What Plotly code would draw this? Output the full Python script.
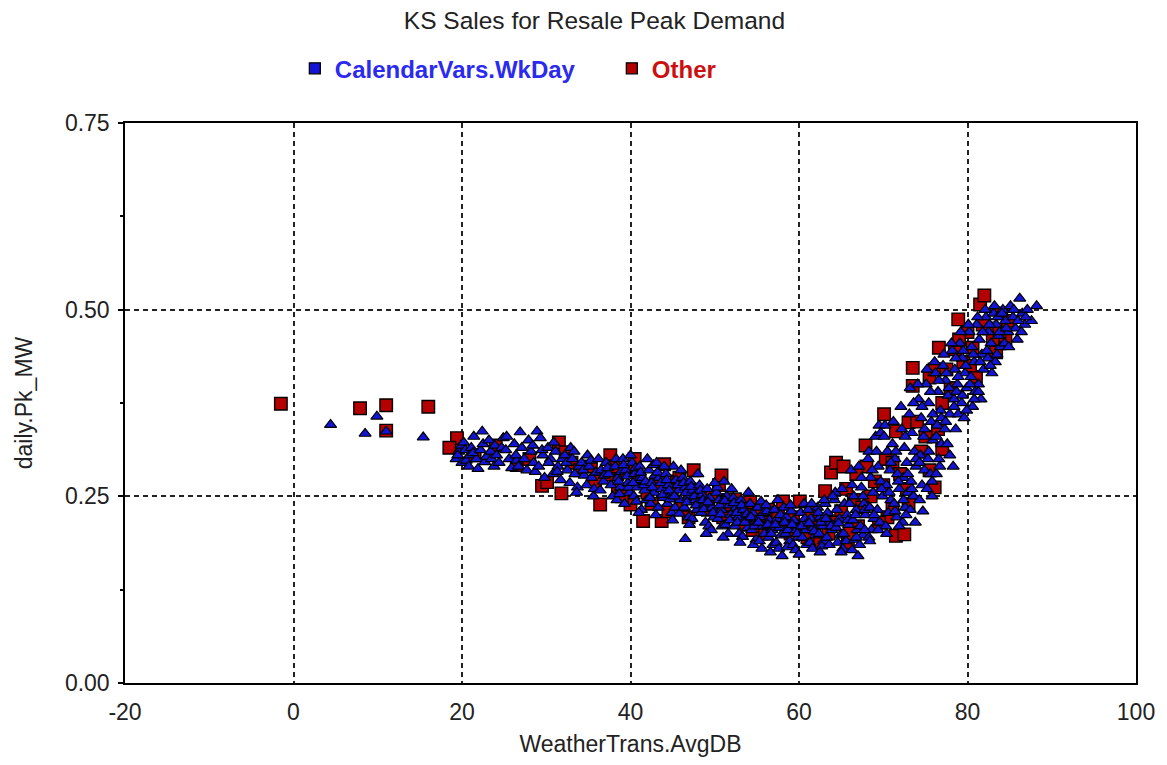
import plotly.graph_objects as go

# ---------------- data ----------------
wkday_x = [
    4.4, 8.5, 9.9, 11.0, 15.4,
    19.3, 19.6, 19.9, 20.0, 19.5,
    20.2, 20.5, 20.8, 20.4, 20.9,
    21.1, 21.4, 21.7, 21.9, 21.3,
    22.4, 22.2, 22.7, 22.9, 22.5,
    23.2, 23.5, 23.8, 23.4, 23.9,
    24.1, 24.4, 24.7, 24.9,
    25.3, 25.6, 25.9, 25.2,
    26.9, 26.2, 26.5, 26.7, 26.4,
    27.1, 27.4, 27.7, 27.9,
    28.9, 28.2, 28.5, 28.7, 28.4,
    29.3, 29.6, 29.1, 29.8, 29.5,
    30.2, 30.5, 30.8, 30.3, 30.9,
    31.1, 31.4, 31.7, 31.9, 31.3,
    32.2, 32.5, 32.8, 32.4, 32.9,
    33.1, 33.4, 33.7, 33.9, 33.3, 33.6,
    34.2, 34.5, 34.8, 34.4, 34.9,
    35.1, 35.4, 35.7, 35.9, 35.3, 35.6,
    36.2, 36.5, 36.8, 36.4, 36.9,
    37.1, 37.4, 37.7, 37.9, 37.3,
    38.2, 38.5, 38.8, 38.4, 38.9, 38.6, 38.3, 38.7,
    39.1, 39.4, 39.7, 39.9, 39.3, 39.6, 39.2, 39.8,
    40.2, 40.5, 40.8, 40.4, 40.9, 40.6, 40.3, 40.7,
    41.1, 41.4, 41.7, 41.9, 41.3, 41.6, 41.2, 41.8,
    42.2, 42.5, 42.8, 42.4, 42.9, 42.6, 42.3, 42.7,
    43.1, 43.4, 43.7, 43.9, 43.3, 43.6, 43.2, 43.8,
    44.2, 44.5, 44.8, 44.4, 44.9, 44.6, 44.3, 44.7,
    45.1, 45.4, 45.7, 45.9, 45.3, 45.6, 45.2, 45.8,
    46.2, 46.5, 46.8, 46.4, 46.9, 46.6, 46.3, 46.7,
    47.1, 47.4, 47.7, 47.9, 47.3, 47.6, 47.2, 47.8,
    48.2, 48.5, 48.8, 48.4, 48.9, 48.6, 48.3, 48.7,
    49.1, 49.4, 49.7, 49.9, 49.3, 49.6, 49.2, 49.8,
    50.2, 50.5, 50.8, 50.4, 50.9, 50.6, 50.3, 50.7,
    51.1, 51.4, 51.7, 51.9, 51.3, 51.6, 51.2, 51.8,
    52.2, 52.5, 52.8, 52.4, 52.9, 52.6, 52.3, 52.7,
    53.1, 53.4, 53.7, 53.9, 53.3, 53.6, 53.2, 53.8,
    54.2, 54.5, 54.8, 54.4, 54.9, 54.6, 54.3, 54.7,
    55.1, 55.4, 55.7, 55.9, 55.3, 55.6, 55.2, 55.8,
    56.2, 56.5, 56.8, 56.4, 56.9, 56.6, 56.3, 56.7,
    57.1, 57.4, 57.7, 57.9, 57.3, 57.6, 57.2, 57.8,
    58.2, 58.5, 58.8, 58.4, 58.9, 58.6, 58.3, 58.7,
    59.1, 59.4, 59.7, 59.9, 59.3, 59.6, 59.2, 59.8,
    60.2, 60.5, 60.8, 60.4, 60.9, 60.6, 60.3, 60.7,
    61.1, 61.4, 61.7, 61.9, 61.3, 61.6, 61.2, 61.8,
    62.2, 62.5, 62.8, 62.4, 62.9, 62.6, 62.3, 62.7,
    63.1, 63.4, 63.7, 63.9, 63.3, 63.6, 63.2, 63.8,
    64.2, 64.5, 64.8, 64.4, 64.9, 64.6, 64.3, 64.7,
    65.1, 65.4, 65.7, 65.9, 65.3, 65.6, 65.2, 65.8,
    66.2, 66.5, 66.8, 66.4, 66.9, 66.6, 66.3, 66.7,
    67.1, 67.4, 67.7, 67.9, 67.3, 67.6, 67.2, 67.8,
    68.2, 68.5, 68.8, 68.4, 68.9, 68.6, 68.3,
    69.1, 69.4, 69.7, 69.9, 69.3, 69.6, 69.5,
    70.2, 70.5, 70.8, 70.4, 70.9, 70.6, 70.3,
    71.1, 71.4, 71.7, 71.9, 71.3, 71.6,
    72.2, 72.5, 72.8, 72.4, 72.9, 72.6, 72.3,
    73.1, 73.4, 73.7, 73.9, 73.3, 73.6, 73.2,
    74.2, 74.5, 74.8, 74.4, 74.9, 74.6, 74.3,
    75.1, 75.4, 75.7, 75.9, 75.3, 75.6, 75.2, 75.8,
    76.2, 76.5, 76.8, 76.4, 76.9, 76.6, 76.3,
    77.1, 77.4, 77.7, 77.9, 77.3, 77.6,
    78.2, 78.5, 78.8, 78.4, 78.9, 78.6, 78.3,
    79.1, 79.4, 79.7, 79.9, 79.3, 79.6,
    80.2, 80.5, 80.8, 80.4, 80.9, 80.6,
    81.1, 81.4, 81.7, 81.9, 81.3, 81.6,
    82.2, 82.5, 82.8, 82.4, 82.9,
    83.1, 83.4, 83.7, 83.9, 83.3,
    84.2, 84.5, 84.8, 84.4,
    85.1, 85.4, 85.7, 85.9,
    86.2, 86.5, 86.8,
    87.1, 87.6,
    88.2,
    # extra points on the rising branch
    66.3, 66.8, 67.4, 67.8, 67.6,
    68.3, 68.7, 68.9, 68.4,
    69.2, 69.8, 69.4, 69.7,
    70.1, 70.7, 70.4, 70.9,
    71.2, 71.5, 71.8, 71.4, 71.9,
    72.1, 72.6, 72.9, 72.4, 72.7,
    73.2, 73.6, 73.9, 73.4, 73.8,
    74.1, 74.6, 74.9, 74.3, 74.7,
    75.2, 75.6, 75.9, 75.4, 75.8,
    76.1, 76.6, 76.9, 76.3, 76.7,
    77.2, 77.5, 77.8, 77.4, 77.9,
    78.1, 78.6, 78.9, 78.4, 78.7,
    79.2, 79.5, 79.8, 79.4, 79.9,
    80.1, 80.7, 80.3, 80.8,
    81.2, 81.8, 81.5, 81.3,
    82.1, 82.6, 82.3, 82.7,
    83.2, 83.6, 83.8, 83.5,
    84.1, 84.6, 84.9,
    85.5, 86.0, 86.4, 86.9,
    # extra points in the trough and the falling part
    55.5, 56.1, 57.5, 58.0, 59.0, 60.0, 61.5, 62.5, 63.0, 64.0, 65.0, 66.0, 67.0,
    40.0, 42.0, 44.0, 46.0, 48.0, 50.0, 52.0, 54.0,
    45.0, 46.5, 47.0, 49.0, 51.0, 53.0, 43.0, 41.0,
]
wkday_y = [
    0.346, 0.334, 0.357, 0.337, 0.329,
    0.300, 0.310, 0.318, 0.295, 0.305,
    0.322, 0.298, 0.290, 0.312, 0.305,
    0.315, 0.330, 0.300, 0.287, 0.308,
    0.337, 0.312, 0.296, 0.303, 0.320,
    0.325, 0.300, 0.290, 0.310, 0.318,
    0.305, 0.295, 0.315, 0.328,
    0.330, 0.300, 0.288, 0.312,
    0.336, 0.320, 0.298, 0.290, 0.305,
    0.315, 0.300, 0.285, 0.325,
    0.337, 0.310, 0.295, 0.283, 0.318,
    0.328, 0.305, 0.290, 0.275, 0.312,
    0.315, 0.300, 0.280, 0.295, 0.322,
    0.310, 0.290, 0.272, 0.300, 0.283,
    0.305, 0.285, 0.268, 0.295, 0.315,
    0.300, 0.280, 0.262, 0.290, 0.310, 0.255,
    0.295, 0.278, 0.265, 0.285, 0.305,
    0.290, 0.275, 0.260, 0.282, 0.298, 0.250,
    0.300, 0.285, 0.270, 0.258, 0.278,
    0.295, 0.280, 0.265, 0.250, 0.288,
    0.290, 0.275, 0.262, 0.245, 0.283, 0.270, 0.300, 0.253,
    0.300, 0.285, 0.268, 0.255, 0.240, 0.277, 0.292, 0.262,
    0.295, 0.280, 0.262, 0.250, 0.272, 0.288, 0.268, 0.243,
    0.290, 0.275, 0.258, 0.245, 0.232, 0.265, 0.282, 0.270,
    0.285, 0.268, 0.255, 0.240, 0.278, 0.262, 0.248, 0.292,
    0.295, 0.275, 0.260, 0.248, 0.235, 0.268, 0.282, 0.252,
    0.280, 0.265, 0.252, 0.240, 0.228, 0.258, 0.272, 0.246,
    0.290, 0.272, 0.258, 0.245, 0.235, 0.265, 0.250, 0.227,
    0.275, 0.262, 0.248, 0.235, 0.222, 0.255, 0.268, 0.242,
    0.270, 0.258, 0.245, 0.232, 0.220, 0.250, 0.263, 0.238,
    0.265, 0.252, 0.240, 0.228, 0.215, 0.245, 0.258, 0.233,
    0.260, 0.248, 0.235, 0.222, 0.210, 0.205, 0.242, 0.228,
    0.255, 0.245, 0.232, 0.220, 0.210, 0.238, 0.262, 0.226,
    0.270, 0.250, 0.238, 0.225, 0.212, 0.200, 0.244, 0.218,
    0.248, 0.235, 0.222, 0.210, 0.200, 0.228, 0.241, 0.215,
    0.245, 0.232, 0.220, 0.208, 0.196, 0.215, 0.238, 0.226,
    0.240, 0.228, 0.215, 0.205, 0.192, 0.185, 0.222, 0.210,
    0.235, 0.222, 0.210, 0.200, 0.190, 0.180, 0.215, 0.228,
    0.230, 0.218, 0.205, 0.195, 0.185, 0.175, 0.212, 0.200,
    0.232, 0.220, 0.208, 0.198, 0.188, 0.180, 0.212, 0.225,
    0.235, 0.222, 0.210, 0.200, 0.190, 0.182, 0.215, 0.205,
    0.230, 0.218, 0.205, 0.195, 0.185, 0.178, 0.212, 0.200,
    0.228, 0.215, 0.205, 0.195, 0.185, 0.240, 0.210, 0.220,
    0.232, 0.220, 0.208, 0.198, 0.188, 0.180, 0.214, 0.203,
    0.235, 0.222, 0.210, 0.200, 0.190, 0.215, 0.228, 0.183,
    0.240, 0.228, 0.215, 0.205, 0.195, 0.185, 0.220, 0.210,
    0.245, 0.232, 0.220, 0.208, 0.198, 0.188, 0.255, 0.214,
    0.260, 0.240, 0.225, 0.212, 0.200, 0.190, 0.180, 0.218,
    0.285, 0.250, 0.232, 0.218, 0.205, 0.192, 0.178, 0.225,
    0.290, 0.262, 0.240, 0.225, 0.210, 0.198, 0.185, 0.232,
    0.300, 0.275, 0.255, 0.235, 0.220, 0.205, 0.195,
    0.330, 0.290, 0.270, 0.250, 0.232, 0.215, 0.345,
    0.345, 0.310, 0.285, 0.265, 0.245, 0.228, 0.210,
    0.320, 0.300, 0.280, 0.260, 0.240, 0.222,
    0.340, 0.315, 0.295, 0.275, 0.255, 0.235, 0.215,
    0.360, 0.335, 0.310, 0.290, 0.270, 0.250, 0.232,
    0.380, 0.355, 0.330, 0.305, 0.285, 0.265, 0.245,
    0.400, 0.375, 0.350, 0.325, 0.300, 0.280, 0.260, 0.270,
    0.415, 0.390, 0.365, 0.345, 0.320, 0.300, 0.280,
    0.425, 0.405, 0.385, 0.360, 0.340, 0.320,
    0.445, 0.420, 0.400, 0.380, 0.360, 0.340, 0.290,
    0.455, 0.435, 0.415, 0.395, 0.375, 0.355,
    0.470, 0.450, 0.430, 0.410, 0.390, 0.370,
    0.480, 0.460, 0.440, 0.420, 0.400, 0.380,
    0.490, 0.470, 0.455, 0.435, 0.415,
    0.495, 0.480, 0.465, 0.450, 0.430,
    0.500, 0.485, 0.470, 0.455,
    0.505, 0.490, 0.475, 0.460,
    0.515, 0.495, 0.480,
    0.500, 0.485,
    0.505,
    # extra points on the rising branch
    0.265, 0.195, 0.275, 0.205, 0.250,
    0.310, 0.285, 0.225, 0.190,
    0.310, 0.260, 0.205, 0.335,
    0.330, 0.255, 0.200, 0.295,
    0.350, 0.310, 0.270, 0.230, 0.210,
    0.370, 0.330, 0.280, 0.245, 0.225,
    0.395, 0.375, 0.300, 0.260, 0.215,
    0.400, 0.370, 0.340, 0.295, 0.230,
    0.420, 0.390, 0.360, 0.310, 0.250,
    0.430, 0.405, 0.355, 0.330, 0.290,
    0.440, 0.415, 0.395, 0.350, 0.305,
    0.455, 0.435, 0.410, 0.370, 0.390,
    0.470, 0.445, 0.425, 0.385, 0.365,
    0.480, 0.440, 0.400, 0.380,
    0.490, 0.470, 0.430, 0.390,
    0.500, 0.480, 0.445, 0.425,
    0.505, 0.490, 0.470, 0.440,
    0.495, 0.475, 0.450,
    0.500, 0.485, 0.470, 0.490,
    # extra points in the trough and the falling part
    0.243, 0.238, 0.245, 0.170, 0.238, 0.172, 0.240, 0.175, 0.245, 0.250, 0.175, 0.240, 0.170,
    0.305, 0.300, 0.290, 0.285, 0.280, 0.268, 0.260, 0.255,
    0.218, 0.193, 0.212, 0.200, 0.195, 0.188, 0.225, 0.228,
]

other_x = [
    -1.5, 7.9, 11.0, 16.0, 11.0, 19.4, 18.5,
    21.5, 24.0, 26.5, 28.0, 29.5, 30.1, 31.5, 31.8, 32.3, 33.0, 34.0, 35.3,
    35.8, 36.4, 37.4, 37.6, 38.5, 39.5, 40.0, 41.0, 41.5, 42.0, 43.0, 43.7,
    44.0, 44.9, 45.5, 46.0, 46.9, 47.5, 48.0, 48.6, 49.2, 50.5, 50.8, 51.5,
    52.0, 52.4, 53.0, 53.5, 54.2, 55.0, 55.5, 56.3, 57.0, 58.1, 58.5, 59.3,
    60.1, 61.0, 62.0, 63.1, 63.5, 63.8, 64.4, 65.0, 65.6, 65.8, 66.5, 67.0,
    67.9, 68.5, 69.0, 70.1, 70.3, 70.5, 71.1, 71.1, 71.5, 71.5, 72.5, 72.0,
    73.0, 73.5, 73.5, 74.5, 75.5, 75.5, 76.1, 76.1, 76.6, 77.0, 77.0, 78.0,
    78.5, 78.9, 79.5, 80.6, 80.0, 81.0, 81.5, 82.0, 82.5, 83.4, 84.0, 84.5,
    83.0,
    38.0, 39.0, 40.5, 42.5, 44.5, 45.8, 47.0, 49.5, 51.0, 53.8, 54.5, 56.0,
    57.5, 59.0, 60.5, 61.5, 62.5, 64.0, 66.0, 67.5, 68.0, 69.5, 72.8, 74.0,
    75.0, 77.5, 79.0, 80.3, 81.8, 83.8, 84.8, 76.5, 73.0, 70.0, 66.8, 65.3,
]
other_y = [
    0.374, 0.368, 0.372, 0.370, 0.338, 0.328, 0.315,
    0.305, 0.318, 0.292, 0.300, 0.264, 0.269, 0.322, 0.254, 0.309, 0.295, 0.285, 0.290,
    0.270, 0.239, 0.279, 0.305, 0.260, 0.285, 0.239, 0.275, 0.217, 0.255, 0.266, 0.217,
    0.293, 0.253, 0.270, 0.240, 0.222, 0.285, 0.250, 0.239, 0.232, 0.265, 0.278, 0.245,
    0.228, 0.246, 0.235, 0.212, 0.242, 0.225, 0.200, 0.232, 0.215, 0.243, 0.205, 0.222,
    0.243, 0.195, 0.215, 0.257, 0.200, 0.282, 0.295, 0.230, 0.260, 0.188, 0.245, 0.210,
    0.318, 0.250, 0.270, 0.360, 0.300, 0.222, 0.233, 0.295, 0.337, 0.197, 0.199, 0.280,
    0.349, 0.422, 0.398, 0.310, 0.409, 0.285, 0.420, 0.262, 0.449, 0.313, 0.375, 0.395,
    0.447, 0.487, 0.430, 0.449, 0.470, 0.410, 0.507, 0.519, 0.475, 0.443, 0.495, 0.460,
    0.460,
    0.290, 0.250, 0.300, 0.240, 0.230, 0.275, 0.260, 0.250, 0.222, 0.225, 0.205, 0.215,
    0.225, 0.200, 0.210, 0.230, 0.190, 0.215, 0.200, 0.235, 0.290, 0.215, 0.260, 0.350,
    0.330, 0.420, 0.460, 0.425, 0.480, 0.470, 0.485, 0.340, 0.240, 0.265, 0.280, 0.290,
]

series_names = ["CalendarVars.WkDay", "Other"]
series_colors = ["#1414d4", "#b40000"]
legend_text_colors = ["#2a2af0", "#cc1010"]

title_text = "KS Sales for Resale Peak Demand"
x_title = "WeatherTrans.AvgDB"
y_title = "daily.Pk_MW"
x_ticks = [-20, 0, 20, 40, 60, 80, 100]
x_tick_text = ["-20", "0", "20", "40", "60", "80", "100"]
y_ticks = [0.0, 0.25, 0.5, 0.75]

# ---------------- figure ----------------
FONT = "Arial, Liberation Sans, sans-serif"
fig = go.Figure()

fig.add_trace(go.Scatter(
    x=other_x, y=other_y, mode="markers", showlegend=False,
    marker=dict(symbol="square", size=12.5, color=series_colors[1],
                line=dict(color="black", width=1.4)),
))
fig.add_trace(go.Scatter(
    x=wkday_x, y=wkday_y, mode="markers", showlegend=False,
    marker=dict(symbol="triangle-up", size=10.5, color=series_colors[0],
                line=dict(color="black", width=1.2)),
))

# legend entries (square symbols, coloured bold text)
for name, col, tcol in zip(series_names, series_colors, legend_text_colors):
    fig.add_trace(go.Scatter(
        x=[None], y=[None], mode="markers",
        name=f"<b><span style='color:{tcol}'>{name}</span></b>",
        marker=dict(symbol="square", size=11, color=col,
                    line=dict(color="black", width=1.3)),
    ))

fig.update_layout(
    width=1159, height=757,
    paper_bgcolor="white", plot_bgcolor="white",
    margin=dict(l=117, r=28, t=115, b=81),
    font=dict(family=FONT, size=23, color="#222222"),
    title=dict(text=title_text, x=0.506, xanchor="center", y=0.984, yanchor="middle",
               font=dict(size=24.5, color="#222222")),
    legend=dict(orientation="h", x=0.168, xanchor="left", y=1.097, yanchor="middle",
                font=dict(size=24), entrywidth=272, bgcolor="rgba(0,0,0,0)",
                itemclick=False),
    xaxis=dict(
        range=[-20, 100], tickvals=x_ticks, ticktext=x_tick_text, ticks="",
        showline=True, mirror=True, linecolor="black", linewidth=1.5,
        showgrid=True, gridcolor="#222222", gridwidth=1.5, griddash="5px,4px",
        zeroline=False, ticklabelstandoff=8,
        title=dict(text=x_title, standoff=12, font=dict(size=23)),
    ),
    yaxis=dict(
        range=[0, 0.75], tickvals=y_ticks, tickformat=".2f",
        ticks="outside", ticklen=5, tickcolor="black", tickwidth=1.5,
        showline=True, mirror=True, linecolor="black", linewidth=1.5,
        showgrid=True, gridcolor="#222222", gridwidth=1.5, griddash="5px,4px",
        zeroline=False, ticklabelstandoff=4,
        minor=dict(tickvals=[0.125, 0.375, 0.625], ticks="outside", ticklen=3,
                   tickcolor="black", tickwidth=1.5, showgrid=False),
        title=dict(text=y_title, standoff=26, font=dict(size=23)),
    ),
)

fig.write_html("out.html")
